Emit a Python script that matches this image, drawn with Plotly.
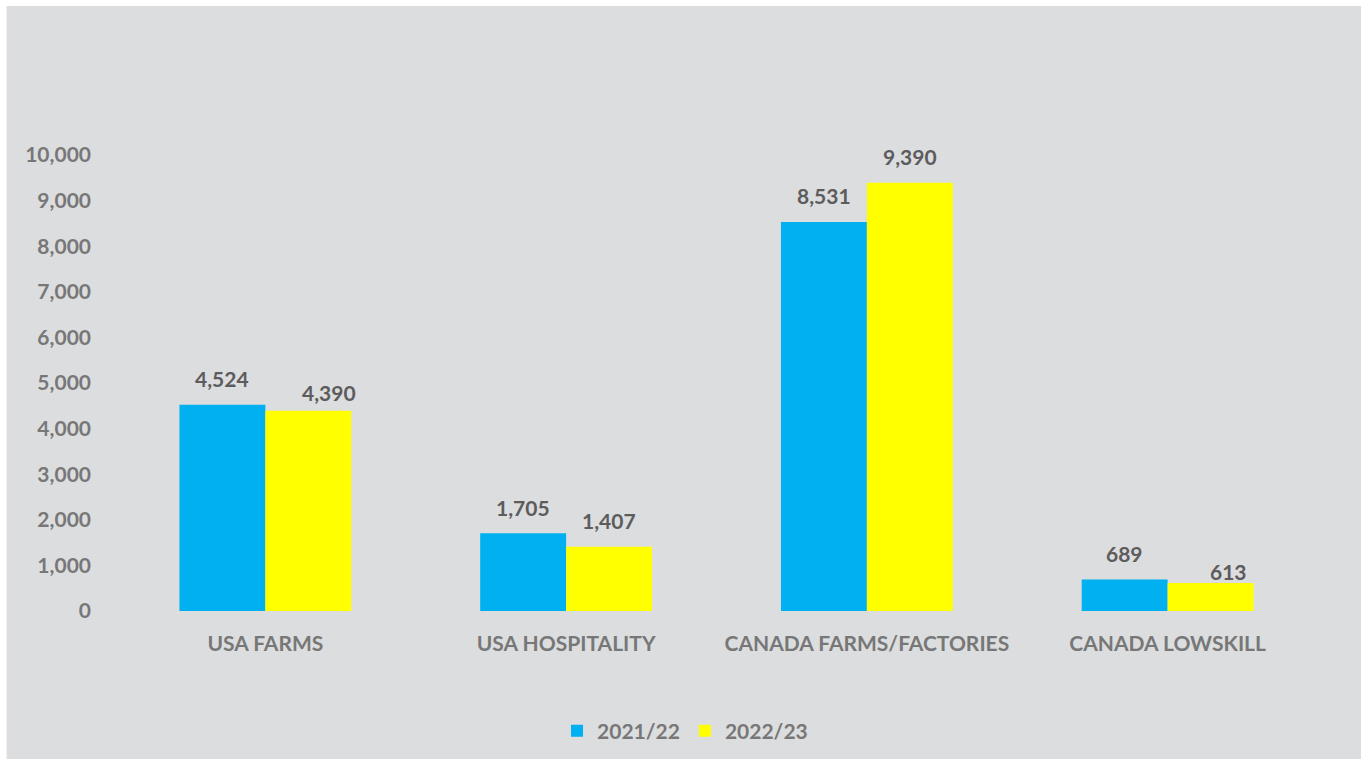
import plotly.graph_objects as go

categories = ["USA FARMS", "USA HOSPITALITY", "CANADA FARMS/FACTORIES", "CANADA LOWSKILL"]
series_names = ["2021/22", "2022/23"]
values_2021 = [4524, 1705, 8531, 689]
values_2022 = [4390, 1407, 9390, 613]
y_ticks = [0, 1000, 2000, 3000, 4000, 5000, 6000, 7000, 8000, 9000, 10000]

colors = ["#00B0F0", "#FFFF00"]
axis_grey = "#777777"
label_grey = "#5C5C5C"
bg = "#DCDDDF"
font_family = "Lato"
font_size = 21

W, H = 1361, 761
ml, mr, mt, mb = 114.5, 42.5, 155, 150
plot_w = W - ml - mr
plot_h = H - mt - mb

bargap = 0.4286

# a couple of value labels sit nudged to the right/lower (series index, category index) -> (dx, dy) px
label_nudges = {(1, 0): (21, -8), (1, 3): (18, -14.5)}

fig = go.Figure()
for name, vals, col in zip(series_names, [values_2021, values_2022], colors):
    fig.add_trace(go.Bar(
        x=categories, y=vals, name=name,
        marker=dict(color=col, line=dict(width=0)),
        hoverinfo="x+y+name",
    ))

# value labels above each bar
bar_w = (1 - bargap) / 2
for k, vals in enumerate([values_2021, values_2022]):
    offset = -bar_w / 2 if k == 0 else bar_w / 2
    for i, v in enumerate(vals):
        dx, dy = label_nudges.get((k, i), (0, 0))
        fig.add_annotation(
            x=i + offset, y=v, xref="x", yref="y",
            text=f"{v:,}", showarrow=False,
            yanchor="middle", yshift=26 + dy, xshift=dx,
            font=dict(family=font_family, size=font_size, color=label_grey, weight="bold"),
        )

# helpers converting pixel positions to paper coordinates
def px_x(p):
    return (p - ml) / plot_w

def px_y(p):
    return (H - mb - p) / plot_h

# grey panel behind the chart, leaving a thin white margin at top/left/bottom
fig.add_shape(
    type="rect", xref="paper", yref="paper", layer="below",
    x0=px_x(6), x1=px_x(W + 2), y0=px_y(759), y1=px_y(6),
    fillcolor=bg, line=dict(width=0),
)

fig.update_layout(
    width=W, height=H,
    margin=dict(l=ml, r=mr, t=mt, b=mb, pad=0, autoexpand=False),
    paper_bgcolor="white",
    plot_bgcolor="rgba(0,0,0,0)",
    barmode="group",
    bargap=bargap,
    bargroupgap=0,
    font=dict(family=font_family, size=font_size, color=axis_grey, weight="bold"),
    showlegend=True,
    legend=dict(
        orientation="h", x=px_x(685), xanchor="center",
        y=px_y(731), yanchor="middle",
        bgcolor="rgba(0,0,0,0)",
        font=dict(family=font_family, size=font_size, color=axis_grey, weight="bold"),
        itemsizing="constant",
    ),
    xaxis=dict(
        type="category",
        showgrid=False, zeroline=False, showline=False,
        ticks="", ticklabelstandoff=18,
        tickfont=dict(family=font_family, size=font_size, color=axis_grey, weight="bold"),
    ),
    yaxis=dict(
        range=[0, 10000],
        tickvals=y_ticks,
        ticktext=[f"{t:,}" for t in y_ticks],
        showgrid=False, zeroline=False, showline=False,
        ticks="", ticklabelstandoff=23,
        tickfont=dict(family=font_family, size=font_size, color=axis_grey, weight="bold"),
    ),
)

fig.write_html("out.html")
